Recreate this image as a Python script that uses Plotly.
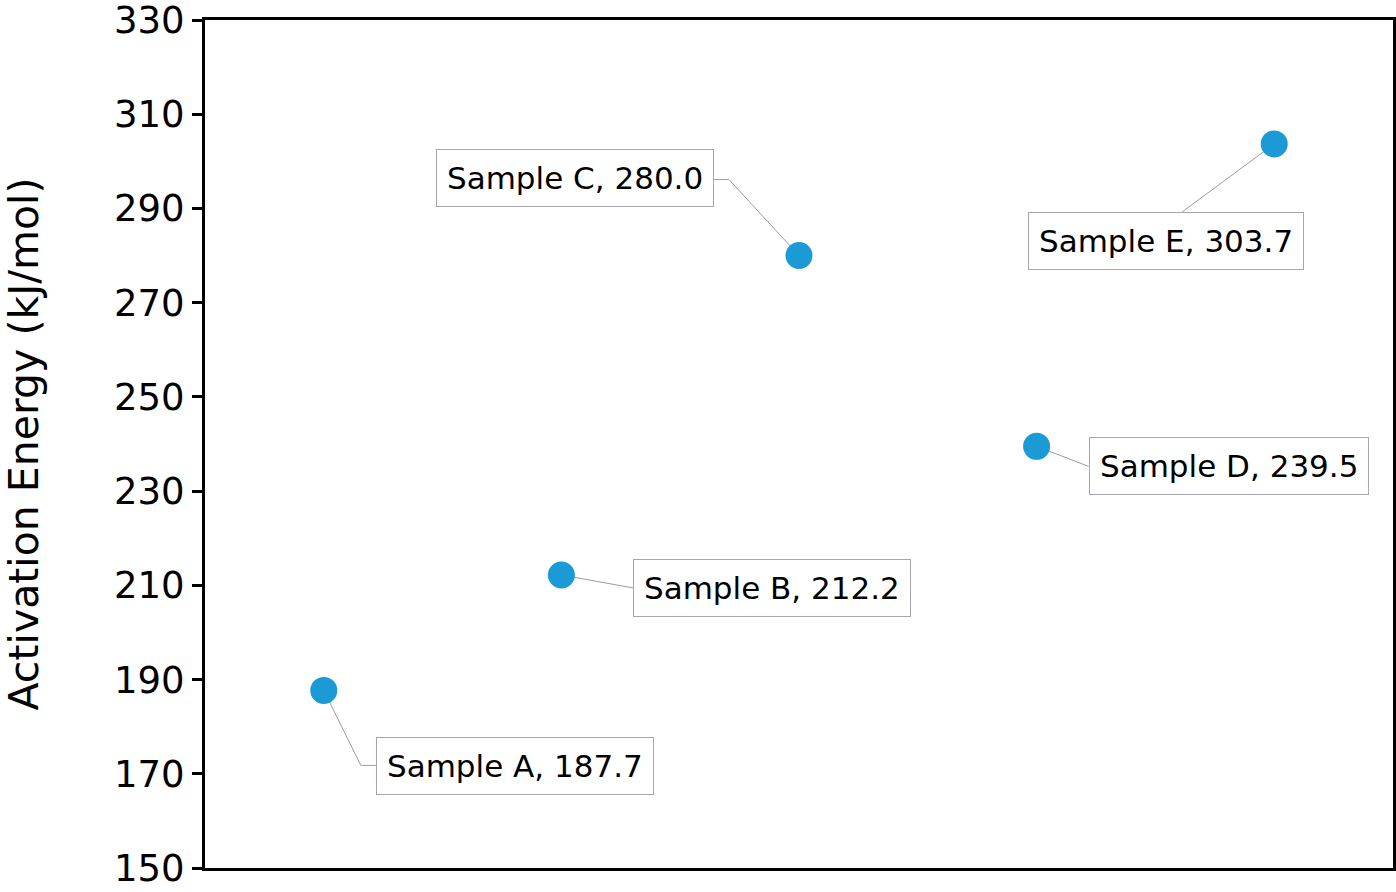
import plotly.graph_objects as go

# data
samples = ["Sample A", "Sample B", "Sample C", "Sample D", "Sample E"]
energy = [187.7, 212.2, 280.0, 239.5, 303.7]

y_ticks = [150, 170, 190, 210, 230, 250, 270, 290, 310, 330]

# label placement, in px from each point (dx right, dy up)
box_anchor = [("left", "middle"), ("left", "middle"), ("right", "middle"),
              ("left", "middle"), ("center", "top")]
box_shift = [(52, -76), (72, -13), (-85, 78), (52, -20), (-108, -68)]
# leader lines: pixel paths from point centre to the label box
leaders = [
    [(0, 0), (37, -75), (52, -75)],
    [(0, 0), (72, -13)],
    [(0, 0), (-70, 76), (-85, 76)],
    [(0, 0), (52, -20)],
    [(0, 0), (-92, -68)],
]

xpos = list(range(1, len(samples) + 1))

fig = go.Figure()
fig.add_trace(go.Scatter(
    x=xpos, y=energy, mode="markers",
    marker=dict(size=27, color="#1b9ad6"),
    showlegend=False, hoverinfo="skip",
))

for i in range(len(samples)):
    path = "M " + " L ".join("%d,%d" % p for p in leaders[i])
    fig.add_shape(
        type="path", path=path, layer="below",
        xref="x", yref="y", xsizemode="pixel", ysizemode="pixel",
        xanchor=xpos[i], yanchor=energy[i],
        line=dict(color="#9a9aa6", width=1),
    )
    fig.add_annotation(
        x=xpos[i], y=energy[i],
        text="%s, %.1f" % (samples[i], energy[i]),
        showarrow=False,
        xanchor=box_anchor[i][0], yanchor=box_anchor[i][1],
        xshift=box_shift[i][0], yshift=box_shift[i][1],
        bordercolor="#a6a6b0", borderwidth=1, borderpad=10,
        bgcolor="white",
        font=dict(size=31, color="black"),
    )

fig.update_layout(
    width=1396, height=892,
    margin=dict(l=205, r=3, t=20, b=24, autoexpand=False),
    plot_bgcolor="white", paper_bgcolor="white",
    font=dict(family="DejaVu Sans", color="black"),
)
fig.update_xaxes(
    range=[0.5, 5.5], showticklabels=False, ticks="",
    showgrid=False, zeroline=False, automargin=False,
    showline=True, linecolor="black", linewidth=3, mirror=True,
)
fig.update_yaxes(
    range=[150, 330], tickvals=y_ticks,
    ticks="outside", ticklen=10, tickwidth=3, tickcolor="black",
    tickfont=dict(size=37), automargin=False, ticklabeloverflow="allow",
    showgrid=False, zeroline=False,
    showline=True, linecolor="black", linewidth=3, mirror=True,
    title=dict(text="Activation Energy (kJ/mol)", font=dict(size=41), standoff=64),
)

# page margin off so the figure sits at the window's top-left corner
fig.write_html("out.html", config={"displayModeBar": False},
               post_script="document.body.style.margin='0';")
